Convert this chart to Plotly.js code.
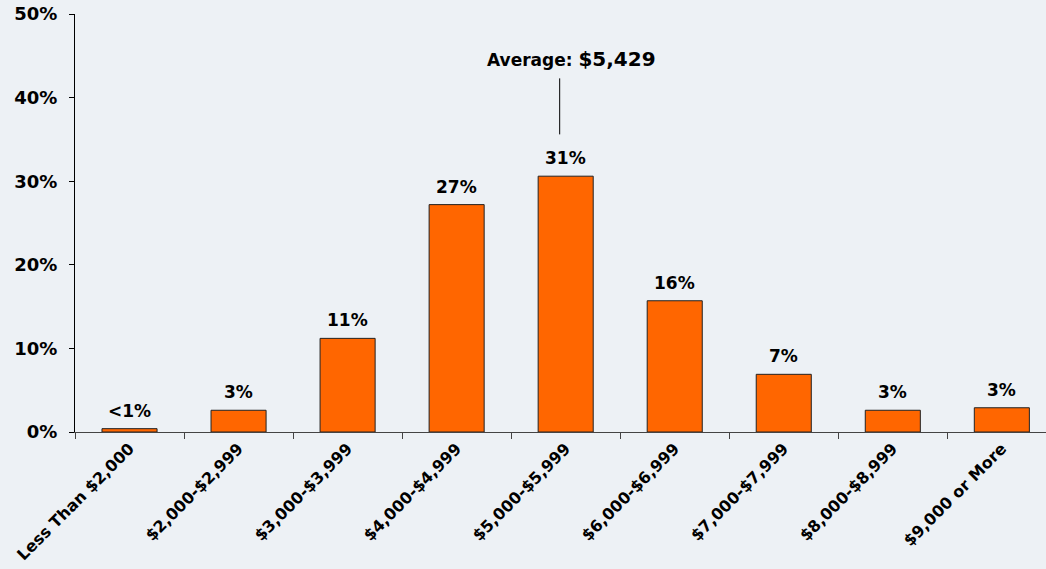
<!DOCTYPE html>
<html>
<head>
<meta charset="utf-8">
<script src="https://cdn.plot.ly/plotly-3.0.1.min.js"></script>
<style>html,body{margin:0;padding:0;background:#EDF1F5;}</style>
</head>
<body>
<div id="chart" style="width:1046px;height:569px;"></div>
<script>
const categories = ["Less Than $2,000", "$2,000-$2,999", "$3,000-$3,999", "$4,000-$4,999", "$5,000-$5,999", "$6,000-$6,999", "$7,000-$7,999", "$8,000-$8,999", "$9,000 or More"];
const values = [0.4, 2.6, 11.2, 27.2, 30.6, 15.7, 6.9, 2.6, 2.9];
const valueLabels = ["<1%", "3%", "11%", "27%", "31%", "16%", "7%", "3%", "3%"];
const yTicks = [0, 10, 20, 30, 40, 50];
const averageText = "Average: <span style='font-size:20px'>$5,429</span>";

const font = "DejaVu Sans, Verdana, sans-serif";
const idx = categories.map((c, i) => i);

const trace = {
  type: "bar",
  x: idx,
  y: values,
  marker: {color: "#FF6600", line: {color: "#222", width: 1}},
  hoverinfo: "none"
};

const labelAnnotations = idx.map(i => ({
  xref: "x", yref: "y", x: i, y: values[i], text: valueLabels[i],
  showarrow: false, yanchor: "bottom", xanchor: "center", yshift: 6,
  font: {family: font, size: 17, color: "#000", weight: "bold"}
}));

const layout = {
  width: 1046, height: 569,
  margin: {l: 75, r: 0, t: 14, b: 137},
  paper_bgcolor: "#EDF1F5",
  plot_bgcolor: "#EDF1F5",
  bargap: 0.495,
  showlegend: false,
  font: {family: font, color: "#000"},
  xaxis: {
    type: "linear",
    range: [-0.5, 8.405],
    tickmode: "array",
    tickvals: idx,
    ticktext: categories,
    tickangle: -45,
    tickfont: {family: font, size: 16, color: "#000", weight: "bold"},
    showgrid: false,
    zeroline: false,
    showline: true,
    linecolor: "#444",
    linewidth: 1,
    ticks: ""
  },
  xaxis2: {
    overlaying: "x",
    matches: "x",
    anchor: "y",
    tickmode: "array",
    tickvals: idx.map(i => i - 0.5),
    ticktext: idx.map(() => ""),
    ticks: "outside",
    ticklen: 6,
    tickcolor: "#444",
    showgrid: false,
    zeroline: false,
    showline: false,
    side: "bottom"
  },
  yaxis: {
    range: [0, 50],
    tickmode: "array",
    tickvals: yTicks,
    ticktext: yTicks.map(v => v + "%"),
    tickfont: {family: font, size: 18, color: "#000", weight: "bold"},
    ticks: "outside",
    ticklen: 5,
    tickcolor: "#000",
    ticklabelstandoff: 8,
    showgrid: false,
    zeroline: false,
    showline: true,
    linecolor: "#000",
    linewidth: 1
  },
  shapes: [
    {type: "line", xref: "x", yref: "y", x0: 3.945, x1: 3.945, y0: 35.6, y1: 42.3, line: {color: "#000", width: 1}}
  ],
  annotations: labelAnnotations.concat([
    {xref: "x", yref: "y", x: 4.05, y: 44.6, text: averageText, showarrow: false,
     font: {family: font, size: 17, color: "#000", weight: "bold"}, xanchor: "center", yanchor: "middle"}
  ])
};

const tickTrace = {type: "scatter", x: [0], y: [0], xaxis: "x2", yaxis: "y", mode: "markers", marker: {opacity: 0}, hoverinfo: "none"};

Plotly.newPlot("chart", [trace, tickTrace], layout, {displayModeBar: false, staticPlot: true});
</script>
</body>
</html>
